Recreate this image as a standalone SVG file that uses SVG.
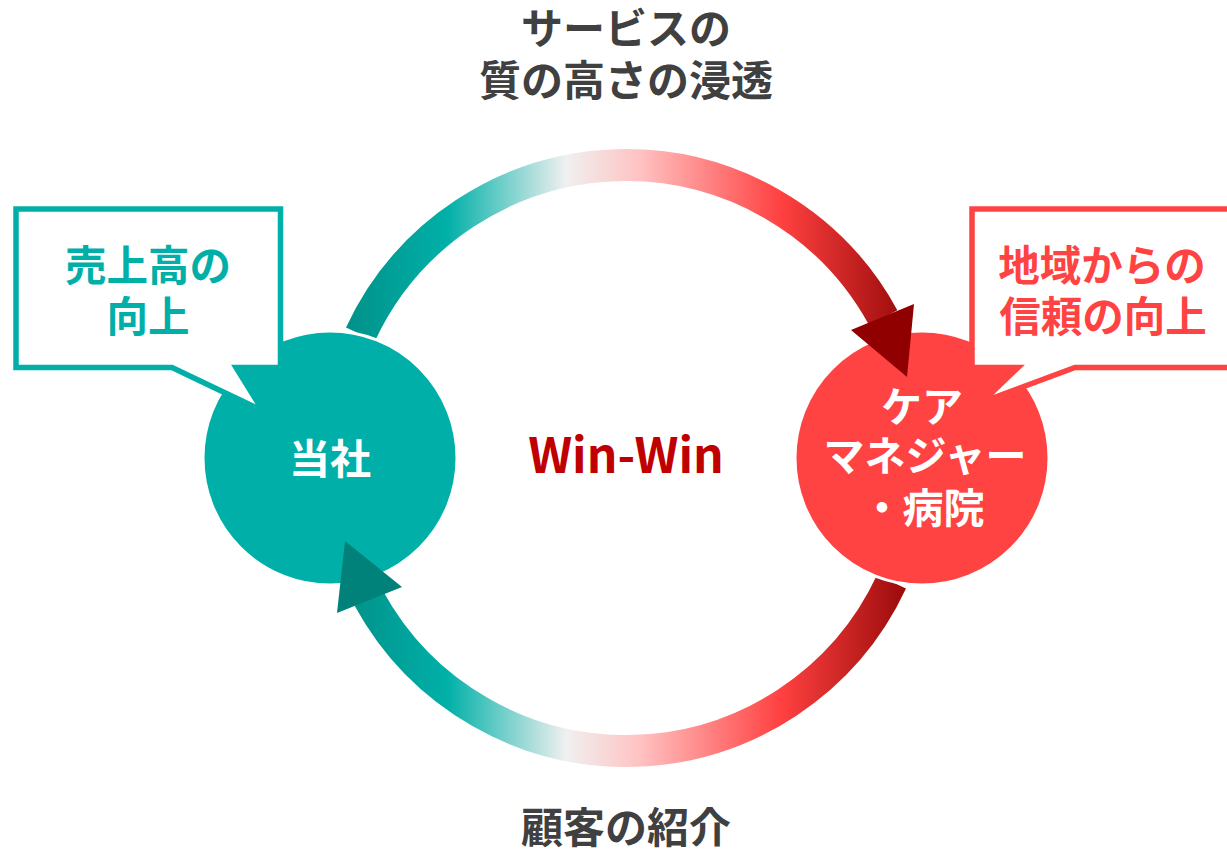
<svg xmlns="http://www.w3.org/2000/svg" width="1227" height="852" viewBox="0 0 1227 852">
<style>
text{font-family:"Noto Sans CJK JP","Noto Sans",sans-serif;font-weight:700;text-anchor:middle}
.lbl{font-size:42px;fill:#404040}
.teal{font-size:41.5px;fill:#00b0a8}
.red{font-size:41.5px;fill:#ff4343}
.wht{font-size:41px;fill:#ffffff}
.arc{fill:none;stroke:url(#g);stroke-width:32}
.call{fill:#ffffff;stroke-width:5.5;stroke-miterlimit:10}
</style>
<defs>
<linearGradient id="g" gradientUnits="userSpaceOnUse" x1="345" y1="0" x2="912" y2="0">
<stop offset="0" stop-color="#009189"/>
<stop offset="0.18" stop-color="#00b0a8"/>
<stop offset="0.39" stop-color="#f0f0f0"/>
<stop offset="0.52" stop-color="#ffc2c2"/>
<stop offset="0.77" stop-color="#ff4040"/>
<stop offset="1" stop-color="#960808"/>
</linearGradient>
</defs>
<g id="connectors">
<path class="arc" d="M360.5,334.2 A293,293 0 0 1 883.3,317.8"/>
<path class="arc" d="M891.5,581.8 A293,293 0 0 1 368.7,598.2"/>
</g>
<g id="node-tousha">
<circle cx="330" cy="458" r="127" fill="#00b0a8" stroke="#ffffff" stroke-width="3"/>
<text class="wht" x="330" y="474">当社</text>
</g>
<g id="node-care">
<circle cx="922" cy="458" r="127" fill="#ff4343" stroke="#ffffff" stroke-width="3"/>
<text class="wht" x="922" y="422">ケア</text>
<text class="wht" x="925" y="471">マネジャー</text>
<text class="wht" x="923" y="523">・病院</text>
</g>
<g id="arrowheads">
<polygon points="851,330 914,304 907,377" fill="#900000"/>
<polygon points="345,541 402,587 337,613" fill="#00827a"/>
</g>
<g id="callout-left">
<path class="call" stroke="#00b0a8" d="M16,209 H280.5 V367.5 H236 L263,411 L172,367.5 H16 Z"/>
<text class="teal" x="148" y="281">売上高の</text>
<text class="teal" x="148" y="332">向上</text>
</g>
<g id="callout-right">
<path class="call" stroke="#ff4343" d="M972,209 H1235 V367.5 H1075 L982,402 L1018,367.5 H972 Z"/>
<text class="red" x="1102" y="281">地域からの</text>
<text class="red" x="1103" y="332">信頼の向上</text>
</g>
<g id="label-top">
<text class="lbl" x="626" y="44">サービスの</text>
<text class="lbl" x="626" y="96">質の高さの浸透</text>
</g>
<g id="label-bottom">
<text class="lbl" x="626" y="843">顧客の紹介</text>
</g>
<g id="label-center">
<text x="626" y="473" style="font-size:48px;fill:#c00000">Win-Win</text>
</g>
</svg>
